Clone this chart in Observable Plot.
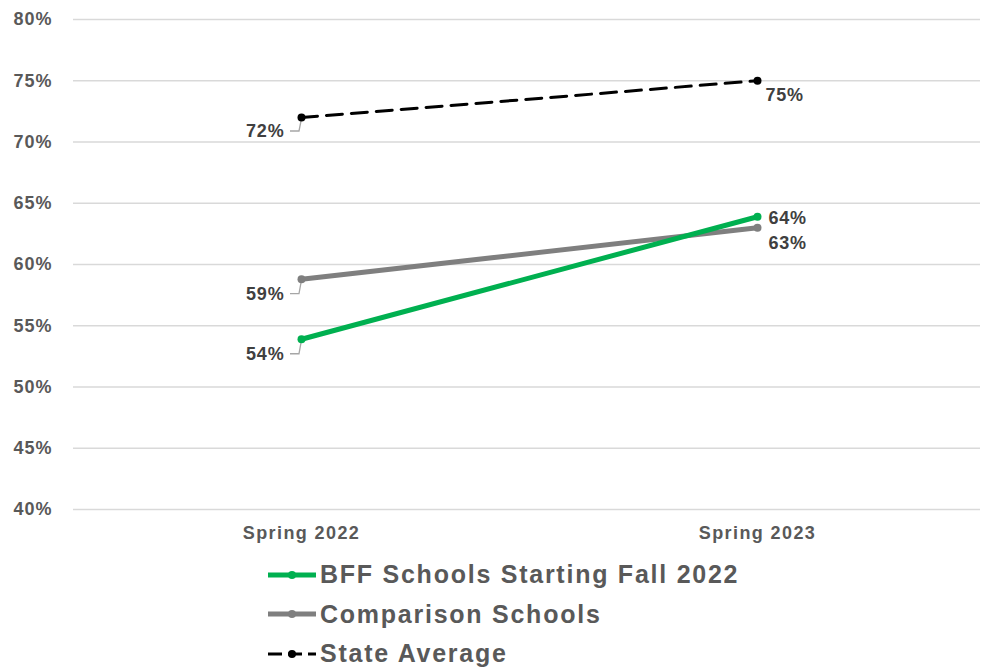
<!DOCTYPE html>
<html><head><meta charset="utf-8">
<script src="https://cdn.jsdelivr.net/npm/d3@7"></script>
<script src="https://cdn.jsdelivr.net/npm/@observablehq/plot@0.6"></script>
<style>
body{margin:0;background:#fff;font-family:"Liberation Sans",Arial,sans-serif;}
#legend{padding-left:268px;padding-top:10px;}
.row{display:flex;align-items:center;height:39.5px;font-weight:bold;font-size:25px;letter-spacing:1.75px;color:#595959;}
.row svg{margin-right:2px;}
</style></head>
<body><div id="chart"></div><div id="legend"></div>
<script>
const periods = ["Spring 2022", "Spring 2023"];
const seriesNames = ["BFF Schools Starting Fall 2022", "Comparison Schools", "State Average"];
const bffValues = [53.9, 63.9];
const comparisonValues = [58.8, 63.0];
const stateValues = [72.0, 75.0];
const yTicks = [40, 45, 50, 55, 60, 65, 70, 75, 80];
const colors = ["#00b050", "#7f7f7f", "#000000"];
const widths = [5, 5, 3];
const dashes = [null, null, "16,9"];
// label offsets: [dx, dy] for each series at each period
const labelOffsets = [[[-17, 15], [11, 2]], [[-17, 15], [11, 15]], [[-17, 14], [8, 14]]];

const allValues = [bffValues, comparisonValues, stateValues];
const data = [];
allValues.forEach((vals, s) => vals.forEach((v, i) => data.push({series: seriesNames[s], s, period: periods[i], i, value: v})));

const marks = [
  Plot.gridY(yTicks, {stroke: "#d9d9d9", strokeOpacity: 1, strokeWidth: 1.3, x1: null}),
  Plot.axisY(yTicks, {tickSize: 0, tickPadding: 21, tickFormat: d => d + "%", fontSize: 18, fontWeight: "bold", fill: "#595959"}),
  Plot.axisX({tickSize: 0, tickPadding: 17, fontSize: 18, fontWeight: "bold", fill: "#595959"}),
  // leader lines for left labels
  (index, scales) => {
    const g = d3.create("svg:g");
    data.filter(d => d.i === 0).forEach(d => {
      const x = scales.x(d.period), y = scales.y(d.value);
      const [dx, dy] = labelOffsets[d.s][d.i];
      g.append("path")
        .attr("d", `M${x + dx + 6},${y + dy} L${x - 2},${y + dy} L${x},${y + 4}`)
        .attr("fill", "none").attr("stroke", "#a6a6a6").attr("stroke-width", 1.3);
    });
    return g.node();
  }
];
[2, 1, 0].forEach(s => {
  const sd = data.filter(d => d.s === s);
  marks.push(Plot.line(sd, {x: "period", y: "value", stroke: colors[s], strokeWidth: widths[s], strokeDasharray: dashes[s]}));
  marks.push(Plot.dot(sd, {x: "period", y: "value", fill: colors[s], r: 4}));
});
data.forEach(d => {
  const [dx, dy] = labelOffsets[d.s][d.i];
  marks.push(Plot.text([d], {x: "period", y: "value", text: d => Math.round(d.value) + "%", dx, dy,
    textAnchor: d.i === 0 ? "end" : "start", fontSize: 18, fontWeight: "bold", fill: "#404040"}));
});

const chart = Plot.plot({
  width: 987, height: 545,
  marginLeft: 73, marginRight: 7, marginTop: 19, marginBottom: 36,
  style: {fontFamily: "'Liberation Sans', Arial, sans-serif", background: "#fff"},
  x: {type: "point", domain: periods, padding: 0.5, insetRight: -5, label: null},
  y: {domain: [40, 80], label: null},
  marks
});
d3.select(chart).selectAll('g[aria-label="y-axis tick label"] text').style("letter-spacing", "1px");
d3.select(chart).selectAll('g[aria-label="x-axis tick label"] text').style("letter-spacing", "1.4px");
d3.select(chart).selectAll('g[aria-label="text"] text').style("letter-spacing", "0.8px");
document.getElementById("chart").appendChild(chart);

const legend = d3.select("#legend");
seriesNames.forEach((name, s) => {
  const row = legend.append("div").attr("class", "row");
  const sv = row.append("svg").attr("width", 50).attr("height", 16);
  sv.append("line").attr("x1", 0).attr("x2", 48).attr("y1", 8).attr("y2", 8)
    .attr("stroke", colors[s]).attr("stroke-width", widths[s]).attr("stroke-dasharray", s === 2 ? "14,6" : null);
  sv.append("circle").attr("cx", 24).attr("cy", 8).attr("r", 4).attr("fill", colors[s]);
  row.append("span").text(name);
});
</script></body></html>
